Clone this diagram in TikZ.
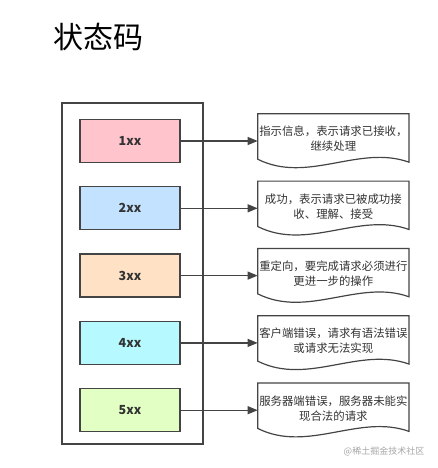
\documentclass[tikz,border=0pt]{standalone}
\usepackage{fontspec}
\setmainfont{Noto Sans CJK SC}
\newfontfamily\cjk{Noto Sans CJK SC}
\usetikzlibrary{positioning, arrows.meta}
\definecolor{edgegray}{HTML}{444444}
\definecolor{textgray}{HTML}{333333}
\definecolor{pinkfill}{HTML}{FFC4CC}
\definecolor{bluefill}{HTML}{C2E2FF}
\definecolor{peachfill}{HTML}{FFE2C6}
\definecolor{cyanfill}{HTML}{B6FAFF}
\definecolor{greenfill}{HTML}{E2FFC4}
\newcommand{\wavydoc}[1]{%
  \draw[draw=edgegray, line width=1.2pt] (#1.north west) -- (#1.north east) -- ([yshift=2pt]#1.south east)
    .. controls ([xshift=-50pt,yshift=20pt]#1.south east) and ([xshift=50pt,yshift=-20pt]#1.south west) .. ([yshift=5pt]#1.south west) -- cycle;}

\begin{document}
\begin{tikzpicture}[
    x=1pt, y=1pt,
    node distance=23pt,
    codebox/.style={draw=edgegray, line width=1.3pt, minimum width=100pt, minimum height=43pt, inner sep=0pt, font=\cjk\bfseries\fontsize{12.5}{14}\selectfont, text=textgray},
    docnode/.style={minimum width=151pt, minimum height=50pt, text width=151pt, align=center, inner sep=0pt, font=\cjk\fontsize{11.4}{15}\selectfont, text=textgray},
    conn/.style={draw=edgegray, line width=1.2pt},
    >={Triangle[length=10pt,width=8pt]}
]
\useasboundingbox (0,0) rectangle (438,-468);

\node[font=\cjk\fontsize{30}{34}\selectfont] (title) at (98,-37) {状态码};

\node[draw=edgegray, line width=1.3pt, minimum width=141pt, minimum height=341pt] (frame) at (132.5,-273.5) {};

% status classes
\node[codebox, fill=pinkfill] (c1) at (130,-141) {1xx};
\node[codebox, fill=bluefill, below=of c1] (c2) {2xx};
\node[codebox, fill=peachfill, below=of c2] (c3) {3xx};
\node[codebox, fill=cyanfill, below=of c3] (c4) {4xx};
\node[codebox, fill=greenfill, below=of c4] (c5) {5xx};

% meanings
\node[docnode, right=77pt of c1, yshift=2pt] (d1) {指示信息，表示请求已接收，\\继续处理};
\node[docnode, right=77pt of c2, yshift=2pt] (d2) {成功，表示请求已被成功接\\收、理解、接受};
\node[docnode, right=77pt of c3, yshift=2pt] (d3) {重定向，要完成请求必须进行\\更进一步的操作};
\node[docnode, right=77pt of c4, yshift=2pt] (d4) {客户端错误，请求有语法错误\\或请求无法实现};
\node[docnode, right=77pt of c5, yshift=2pt] (d5) {服务器端错误，服务器未能实\\现合法的请求};
\wavydoc{d1}
\wavydoc{d2}
\wavydoc{d3}
\wavydoc{d4}
\wavydoc{d5}

\draw[->, conn] (c1.east) -- (c1.east -| d1.west);
\draw[->, conn] (c2.east) -- (c2.east -| d2.west);
\draw[->, conn] (c3.east) -- (c3.east -| d3.west);
\draw[->, conn] (c4.east) -- (c4.east -| d4.west);
\draw[->, conn] (c5.east) -- (c5.east -| d5.west);

\node[font=\cjk\fontsize{9}{10}\selectfont, text=black!35] (mark) at (384,-451) {@稀土掘金技术社区};
\end{tikzpicture}
\end{document}
